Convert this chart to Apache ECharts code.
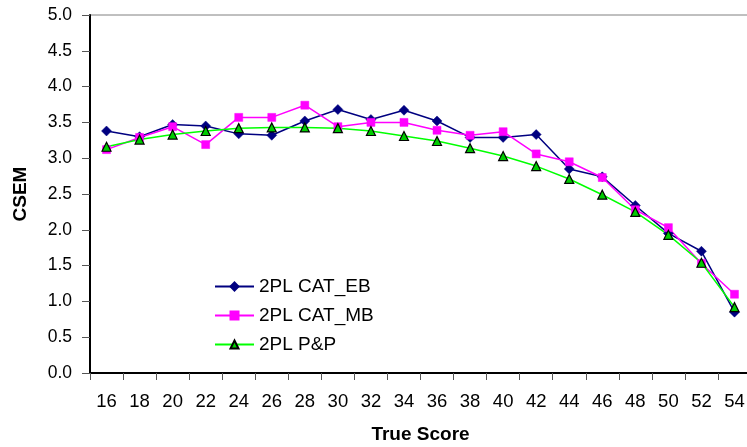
<!DOCTYPE html>
<html>
<head>
<meta charset="utf-8">
<script src="https://cdn.jsdelivr.net/npm/echarts@6/dist/echarts.min.js"></script>
<style>
html,body{margin:0;padding:0;background:#fff;}
#chart{width:747px;height:447px;}
</style>
</head>
<body>
<div id="chart"></div>
<script>
var categories = ['16','18','20','22','24','26','28','30','32','34','36','38','40','42','44','46','48','50','52','54'];
var catEB = [3.38,3.30,3.47,3.45,3.34,3.32,3.52,3.68,3.54,3.67,3.52,3.29,3.29,3.33,2.85,2.74,2.34,1.95,1.70,0.85];
var catMB = [3.12,3.29,3.44,3.19,3.57,3.57,3.74,3.44,3.50,3.50,3.39,3.32,3.37,3.06,2.95,2.73,2.28,2.03,1.53,1.10];
var pp    = [3.16,3.26,3.33,3.38,3.42,3.43,3.43,3.42,3.38,3.31,3.24,3.14,3.03,2.89,2.71,2.49,2.25,1.93,1.54,0.92];
var yTicks = ['0.0','0.5','1.0','1.5','2.0','2.5','3.0','3.5','4.0','4.5','5.0'];

var FONT = '"Liberation Sans", Arial, sans-serif';
var chart = echarts.init(document.getElementById('chart'), null, {renderer:'canvas'});
chart.setOption({
  animation: false,
  backgroundColor: '#ffffff',
  textStyle: {fontFamily: FONT},
  grid: {left: 90, right: -4, top: 15, bottom: 74, show: true, borderColor: '#808080', borderWidth: 1, containLabel: false, outerBoundsMode: 'none'},
  legend: {
    orient: 'vertical', left: 209, top: 272, itemWidth: 39, itemHeight: 10, itemGap: 10,
    textStyle: {fontSize: 19, color: '#000', fontFamily: FONT},
    data: ['2PL CAT_EB','2PL CAT_MB','2PL P&P']
  },
  xAxis: {
    type: 'category', data: categories, boundaryGap: true,
    name: 'True Score', nameLocation: 'middle', nameGap: 52,
    nameTextStyle: {fontSize: 19, fontWeight: 'bold', color: '#000', fontFamily: FONT},
    axisLine: {lineStyle: {color: '#000', width: 2}},
    axisTick: {show: true, alignWithLabel: false, length: 7, inside: false, lineStyle: {color: '#555', width: 1}},
    axisLabel: {fontSize: 18.5, color: '#000', margin: 19, interval: 0, fontFamily: FONT},
    splitLine: {show: false}
  },
  yAxis: {
    type: 'value', min: 0, max: 5, interval: 0.5,
    name: 'CSEM', nameLocation: 'middle', nameGap: 60, nameRotate: 90,
    nameTextStyle: {fontSize: 19, fontWeight: 'bold', color: '#000', fontFamily: FONT},
    axisLine: {show: true, lineStyle: {color: '#000', width: 2}},
    axisTick: {show: true, length: 8, lineStyle: {color: '#555', width: 1}},
    axisLabel: {fontSize: 17.5, color: '#000', margin: 18, fontFamily: FONT,
      formatter: function(v){ return yTicks[Math.round(v*2)]; }},
    splitLine: {show: false}
  },
  series: [
    {name: '2PL CAT_EB', type: 'line', data: catEB, symbol: 'diamond', symbolSize: 10,
     lineStyle: {color: '#000080', width: 1.5}, itemStyle: {color: '#000080', borderColor: '#000080', borderWidth: 0.5}, color: '#000080'},
    {name: '2PL CAT_MB', type: 'line', data: catMB, symbol: 'rect', symbolSize: 8,
     lineStyle: {color: '#FF00FF', width: 1.5}, itemStyle: {color: '#FF00FF', borderColor: '#FF00FF', borderWidth: 0.5}, color: '#FF00FF'},
    {name: '2PL P&P', type: 'line', data: pp, symbol: 'triangle', symbolSize: 9,
     lineStyle: {color: '#00FF00', width: 1.5}, itemStyle: {color: '#00CC00', borderColor: '#000', borderWidth: 1.2}, color: '#00FF00'}
  ]
});
</script>
</body>
</html>
